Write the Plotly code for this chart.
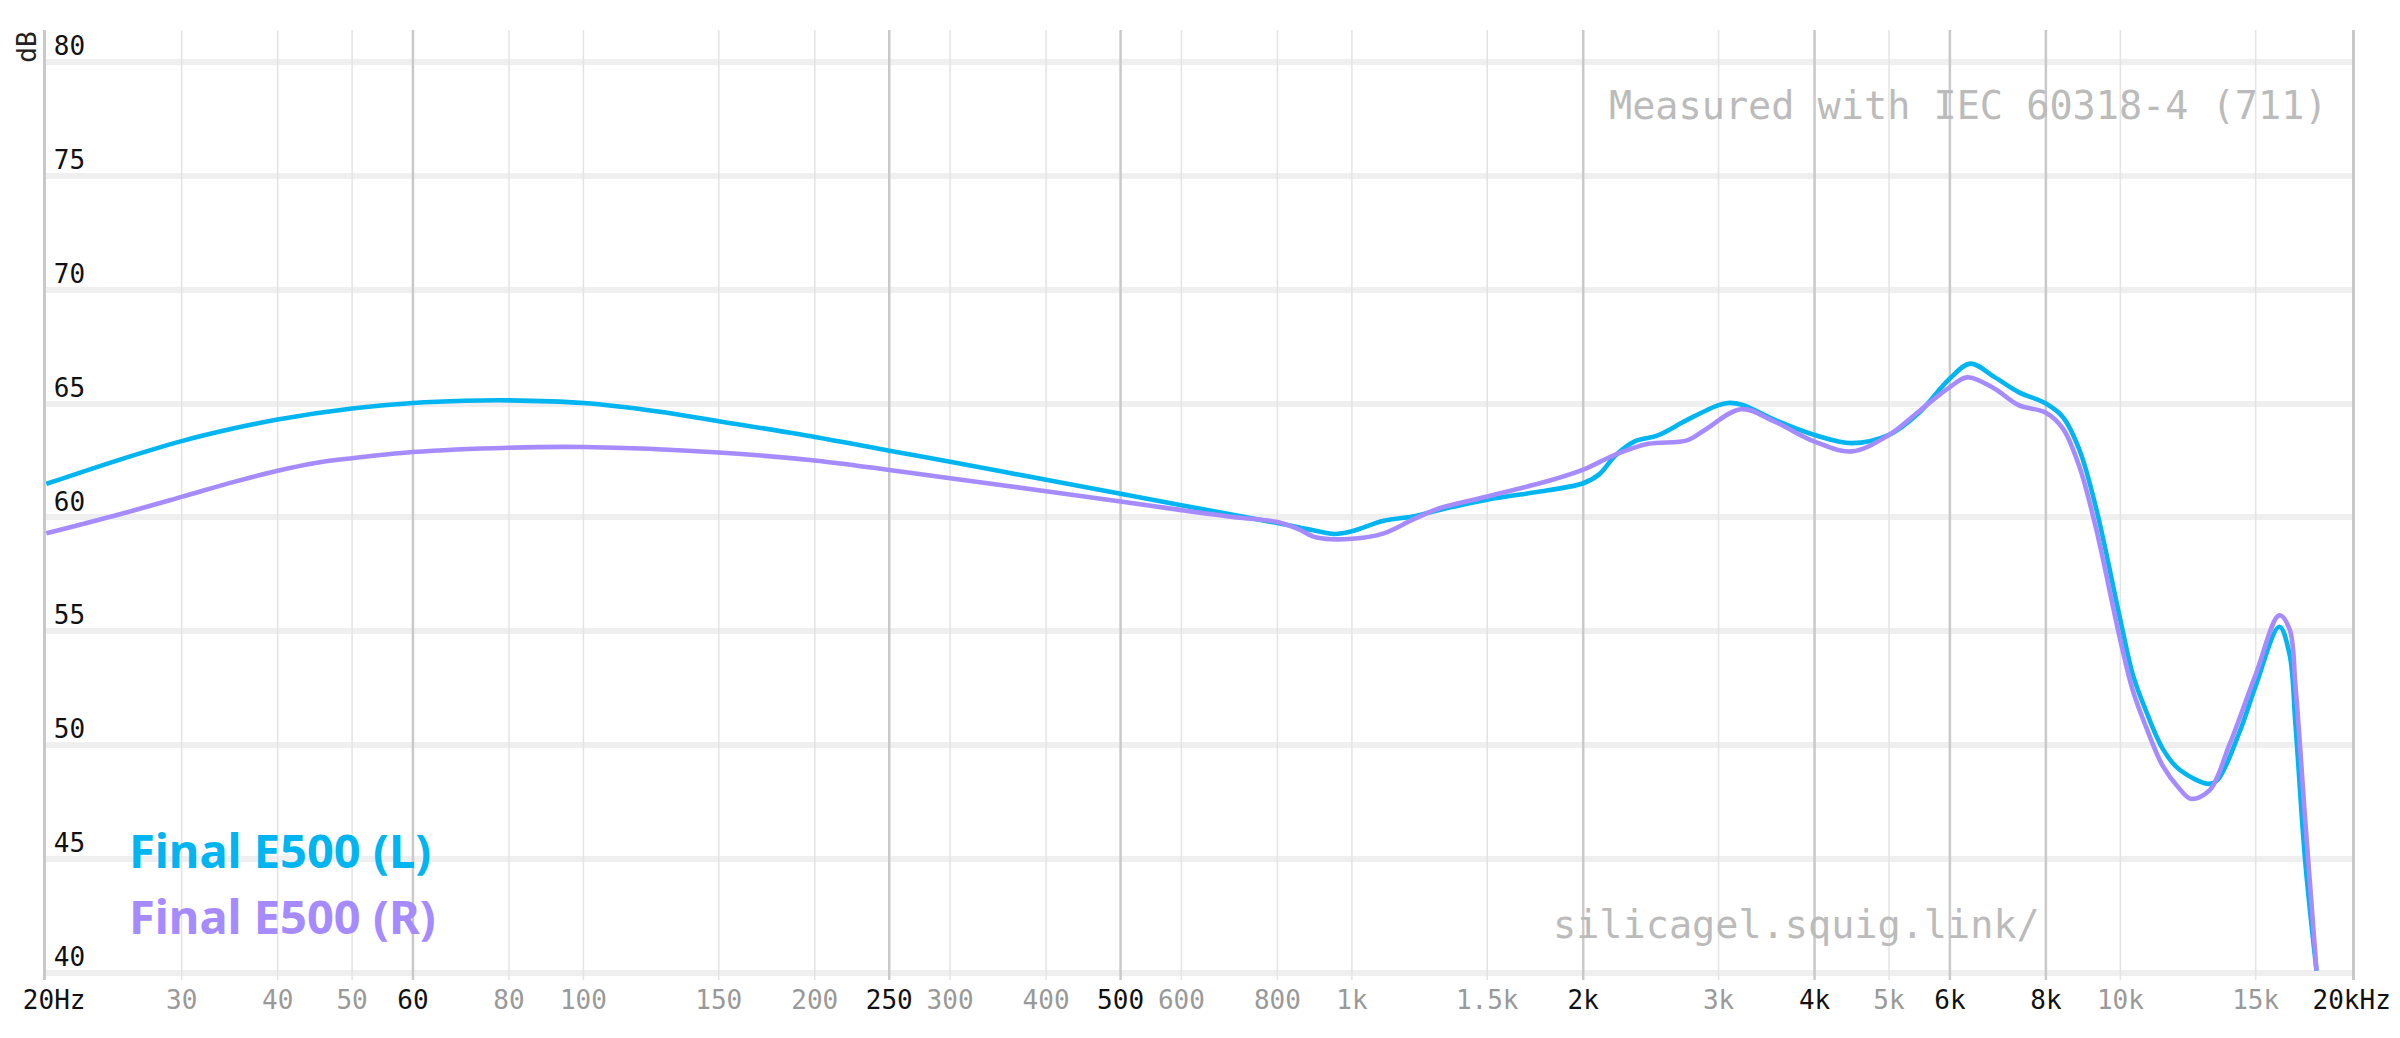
import numpy as np
import plotly.graph_objects as go

# ---- data ----
freq_L = [20, 25, 30, 35, 40, 50, 60, 70, 80, 100, 125, 150, 191, 250, 300, 400, 500, 600, 700,
          800, 900, 950, 1000, 1100, 1200, 1300, 1500, 1800, 2000, 2100, 2200, 2330, 2500,
          2730, 3000, 3100, 3230, 3550, 4000, 4470, 5000, 5460, 6000, 6380, 6860, 7370,
          8000, 8420, 8850, 9300, 10000, 10380, 10800, 11350, 11930, 13050, 13400, 14300,
          15000, 16100, 16600, 16900, 17400, 18000]
db_L = [61.47, 62.55, 63.35, 63.9, 64.3, 64.78, 65.02, 65.12, 65.14, 65.02, 64.65, 64.22, 63.65,
        62.93, 62.44, 61.65, 61.04, 60.53, 60.12, 59.75, 59.4, 59.27, 59.39, 59.85, 60.04, 60.33,
        60.78, 61.19, 61.5, 61.9, 62.7, 63.33, 63.6, 64.28, 64.93, 65.03, 64.93, 64.28,
        63.62, 63.26, 63.62, 64.57, 66.1, 66.75, 66.16, 65.5, 65.0, 64.4, 62.95, 60.4,
        55.5, 53.1, 51.5, 49.85, 48.93, 48.3, 48.5, 50.6, 52.6, 55.2, 54.0, 50.9, 44.9, 40.1]

freq_R = [20, 25, 30, 35, 40, 45, 50, 60, 80, 100, 150, 200, 250, 300, 400, 500, 600, 700, 800,
          850, 900, 1000, 1100, 1200, 1300, 1500, 1800, 2000, 2200, 2430, 2730, 2880, 3210,
          3550, 4000, 4470, 5000, 5460, 6000, 6320, 6860, 7370, 8000, 8420, 8850, 9300,
          10000, 10380, 10800, 11350, 11930, 12350, 13050, 13860, 15000, 16100, 16600,
          16900, 17400, 18000]
db_R = [59.3, 60.15, 60.9, 61.55, 62.05, 62.4, 62.6, 62.87, 63.06, 63.09, 62.85, 62.5, 62.08,
        61.72, 61.15, 60.7, 60.32, 60.02, 59.8, 59.5, 59.12, 59.06, 59.3, 59.9, 60.4, 60.92,
        61.6, 62.1, 62.75, 63.23, 63.38, 63.84, 64.75, 64.2, 63.33, 62.9, 63.62, 64.64,
        65.72, 66.15, 65.65, 64.93, 64.6, 63.9, 62.2, 59.5, 54.6, 52.4, 50.8, 49.1, 48.1,
        47.65, 48.0, 50.0, 53.1, 55.7, 55.1, 52.6, 46.7, 40.1]

major_ticks = [20, 60, 250, 500, 2000, 4000, 6000, 8000, 20000]
major_labels = ["\u00a020Hz", "60", "250", "500", "2k", "4k", "6k", "8k", "20kHz"]
minor_ticks = [30, 40, 50, 80, 100, 150, 200, 300, 400, 600, 800, 1000, 1500, 3000, 5000, 10000, 15000]
minor_labels = ["30", "40", "50", "80", "100", "150", "200", "300", "400", "600", "800",
                "1k", "1.5k", "3k", "5k", "10k", "15k"]
y_ticks = [40, 45, 50, 55, 60, 65, 70, 75, 80]

series_names = ["Final E500 (L)", "Final E500 (R)"]
series_colors = ["#00b5f0", "#a68bff"]

f_min, f_max = 20, 20000
x_range = [np.log10(f_min) - 0.0004, np.log10(f_max) + 0.0004]
y_range = [39.69, 81.40]
major_col, minor_col = "#c9c9c9", "#e3e3e3"

# ---- figure ----
fig = go.Figure()


def vlines(freqs):
    xs, ys = [], []
    for f in freqs:
        if f_min < f < f_max:
            xs += [f, f, None]
            ys += [y_range[0], y_range[1], None]
    return xs, ys


for freqs, col, w in [(minor_ticks, minor_col, 1.5), (major_ticks, major_col, 2.5)]:
    gx, gy = vlines(freqs)
    fig.add_trace(go.Scatter(x=gx, y=gy, mode="lines", line=dict(color=col, width=w),
                             hoverinfo="skip", showlegend=False))

for fx, fy, name, col in [(freq_L, db_L, series_names[0], series_colors[0]),
                          (freq_R, db_R, series_names[1], series_colors[1])]:
    fig.add_trace(go.Scatter(x=fx, y=fy, mode="lines", name=name,
                             line=dict(color=col, width=4.6, shape="spline", smoothing=1.0),
                             hoverinfo="skip"))

tick_pairs = sorted([(f, l, True) for f, l in zip(major_ticks, major_labels)] +
                    [(f, l, False) for f, l in zip(minor_ticks, minor_labels)])
tickvals = [p[0] for p in tick_pairs]
ticktext = [p[1] if p[2] else "<span style='color:#999999'>%s</span>" % p[1] for p in tick_pairs]

mono = "DejaVu Sans Mono"
annotations = [
    dict(text="dB", xref="paper", yref="paper", x=-0.008, y=0.982, textangle=-90,
         showarrow=False, xanchor="center", yanchor="middle",
         font=dict(family=mono, size=26, color="#222222")),
    dict(text="Measured with IEC 60318-4 (711)", xref="paper", yref="paper", x=0.9905, y=0.920,
         showarrow=False, xanchor="right", yanchor="middle",
         font=dict(family=mono, size=38.5, color="#bbbbbb")),
    dict(text="silicagel.squig.link/", xref="paper", yref="paper", x=0.6526, y=0.058,
         showarrow=False, xanchor="left", yanchor="middle",
         font=dict(family=mono, size=38.5, color="#bbbbbb")),
    dict(text="<b>%s</b>" % series_names[0], xref="paper", yref="paper", x=0.0352, y=0.1368,
         showarrow=False, xanchor="left", yanchor="middle",
         font=dict(family="Noto Sans", size=47, color=series_colors[0])),
    dict(text="<b>%s</b>" % series_names[1], xref="paper", yref="paper", x=0.0352, y=0.0670,
         showarrow=False, xanchor="left", yanchor="middle",
         font=dict(family="Noto Sans", size=47, color=series_colors[1])),
]

fig.update_layout(
    width=2400, height=1038,
    margin=dict(l=46, r=48, t=30, b=58, autoexpand=False),
    paper_bgcolor="white", plot_bgcolor="white",
    showlegend=False,
    annotations=annotations,
    xaxis=dict(type="log", range=x_range, automargin=False,
               tickmode="array", tickvals=tickvals, ticktext=ticktext,
               showgrid=False, zeroline=False, showline=False, ticks="",
               ticklabeloverflow="allow", ticklabelstandoff=2,
               tickfont=dict(family=mono, size=26, color="#111111")),
    yaxis=dict(range=y_range, tickmode="array", tickvals=y_ticks, automargin=False,
               showgrid=True, gridcolor="#efefef", gridwidth=6, zeroline=False,
               showline=True, mirror=True, linecolor=major_col, linewidth=2.5,
               ticks="", ticklabelposition="outside",
               ticklabelstandoff=-47, ticklabelshift=-16,
               tickfont=dict(family=mono, size=26, color="#111111")),
)

fig.write_html("out.html", config={"displayModeBar": False},
               post_script="document.body.style.margin='0px';document.body.style.overflow='hidden';")
